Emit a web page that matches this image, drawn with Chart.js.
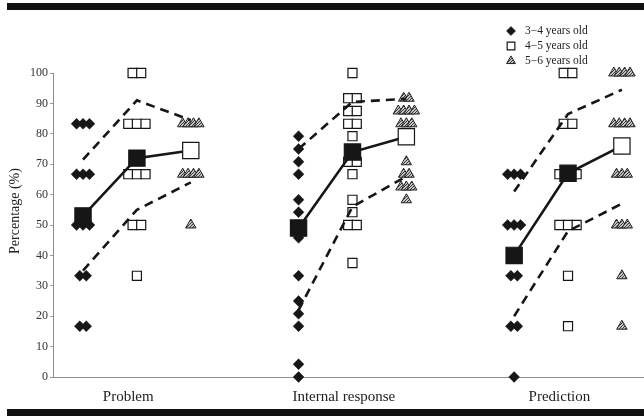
<!DOCTYPE html>
<html lang="en">
<head>
<meta charset="UTF-8" />
<title>Percentage by age group</title>
<script src="https://cdn.jsdelivr.net/npm/chart.js"></script>
<style>
  html, body { margin: 0; padding: 0; background: #fff; }
  #wrap { width: 644px; height: 418px; position: relative; }
</style>
</head>
<body>
<div id="wrap"><canvas id="chart"></canvas></div>
<script>
  // categories and groups
  const categories = ['Problem', 'Internal response', 'Prediction'];
  const ageGroups = ['3\u22124 years old', '4\u22125 years old', '5\u22126 years old'];
  const yTitle = 'Percentage (%)';

  // individual scores (%) per category and age group
  const problem34 = [83.3, 83.3, 83.3, 66.7, 66.7, 66.7, 50, 50, 50, 33.3, 33.3, 16.7, 16.7];
  const problem45 = [100, 100, 83.3, 83.3, 83.3, 66.7, 66.7, 66.7, 50, 50, 33.3];
  const problem56 = [83.3, 83.3, 83.3, 83.3, 66.7, 66.7, 66.7, 66.7, 50];
  const internal34 = [79.2, 75, 70.8, 66.7, 58.3, 54.2, 50, 45.8, 33.3, 25, 20.8, 16.7, 4.2, 0];
  const internal45 = [100, 91.7, 91.7, 87.5, 87.5, 83.3, 83.3, 79.2, 70.8, 70.8, 66.7, 58.3, 54.2, 50, 50, 37.5];
  const internal56 = [91.7, 91.7, 87.5, 87.5, 87.5, 87.5, 83.3, 83.3, 83.3, 79.2, 70.8, 66.7, 66.7, 62.5, 62.5, 62.5, 58.3];
  const prediction34 = [66.7, 66.7, 66.7, 50, 50, 50, 33.3, 33.3, 16.7, 16.7, 0];
  const prediction45 = [100, 100, 83.3, 83.3, 66.7, 66.7, 66.7, 50, 50, 50, 33.3, 16.7];
  const prediction56 = [100, 100, 100, 100, 83.3, 83.3, 83.3, 83.3, 66.7, 66.7, 66.7, 50, 50, 50, 33.3, 16.7];

  // group means and the dashed upper / lower bounds (3-4, 4-5, 5-6)
  const meanProblem = [53, 72, 74.5];
  const upperProblem = [71.5, 91, 84.5];
  const lowerProblem = [35, 55, 64];
  const meanInternal = [49, 74, 79];
  const upperInternal = [75, 90.5, 91.5];
  const lowerInternal = [22, 56, 66];
  const meanPrediction = [40, 67, 76];
  const upperPrediction = [61, 86.5, 94.5];
  const lowerPrediction = [20, 48, 57];

  const scores = [
    [problem34, problem45, problem56],
    [internal34, internal45, internal56],
    [prediction34, prediction45, prediction56]
  ];
  const means = [meanProblem, meanInternal, meanPrediction];
  const uppers = [upperProblem, upperInternal, upperPrediction];
  const lowers = [lowerProblem, lowerInternal, lowerPrediction];

  const GROUP_GAP = 4;          // x units between categories
  const spread = [0.12, 0.16, 0.1]; // side-by-side step for equal values
  const font = '"Liberation Serif", "Times New Roman", serif';
  const ink = '#161616';

  const canvas = document.getElementById('chart');
  const ctx0 = canvas.getContext('2d');

  // grey hatch used inside the triangles
  function hatch() {
    const c = document.createElement('canvas');
    c.width = 3; c.height = 3;
    const g = c.getContext('2d');
    g.fillStyle = '#c4c4c4';
    g.fillRect(0, 0, 3, 3);
    g.fillStyle = '#3a3a3a';
    g.fillRect(0, 2, 1, 1); g.fillRect(1, 1, 1, 1); g.fillRect(2, 0, 1, 1);
    return ctx0.createPattern(c, 'repeat');
  }
  const hatchFill = hatch();

  // points of one age group over all categories, equal values placed side by side
  function agePoints(a) {
    const pts = [];
    scores.forEach((cols, g) => {
      const vals = cols[a];
      const counts = {};
      vals.forEach(v => { counts[v] = (counts[v] || 0) + 1; });
      const seen = {};
      vals.forEach(v => {
        const n = counts[v];
        const i = seen[v] = (seen[v] === undefined ? 0 : seen[v] + 1);
        pts.push({ x: g * GROUP_GAP + a + (i - (n - 1) / 2) * spread[a], y: v });
      });
    });
    return pts;
  }

  const series = (arr, g) => arr.map((v, a) => ({ x: g * GROUP_GAP + a, y: v }));

  const styles = [
    { pointStyle: 'rectRot', radius: 5.4, bg: ink, border: ink, bw: 0.5 },
    { pointStyle: 'rect', radius: 6.4, bg: '#fff', border: ink, bw: 1.2 },
    { pointStyle: 'triangle', radius: 6, bg: hatchFill, border: '#222', bw: 1 }
  ];

  const datasets = [];
  means.forEach((m, g) => {
    datasets.push({
      label: 'mean ' + categories[g],
      data: series(m, g),
      showLine: true,
      borderColor: ink,
      borderWidth: 2.6,
      pointStyle: 'rect',
      pointRadius: 11.5,
      pointBackgroundColor: [ink, ink, '#fff'],
      pointBorderColor: ink,
      pointBorderWidth: 1.2,
      clip: false
    });
  });
  [uppers, lowers].forEach(set => set.forEach((b, g) => {
    datasets.push({
      label: 'bound ' + categories[g],
      data: series(b, g),
      showLine: true,
      borderColor: ink,
      borderWidth: 2.6,
      borderDash: [9, 6],
      pointRadius: 0,
      clip: false
    });
  }));
  ageGroups.forEach((name, a) => {
    const s = styles[a];
    datasets.push({
      label: name,
      data: agePoints(a),
      pointStyle: s.pointStyle,
      pointRadius: s.radius,
      backgroundColor: s.bg,
      borderColor: s.border,
      borderWidth: s.bw,
      clip: false
    });
  });

  // frame bars, legend and axis title
  const decor = {
    id: 'decor',
    beforeDraw(chart) {
      const c = chart.ctx;
      c.save();
      c.fillStyle = '#fff';
      c.fillRect(0, 0, chart.width, chart.height);
      c.fillStyle = '#111';
      c.fillRect(7, 3, chart.width - 7, 7);
      c.fillRect(7, 409, chart.width - 7, 7);
      c.restore();
    },
    afterDraw(chart) {
      const c = chart.ctx;
      c.save();
      c.font = '11.5px ' + font;
      c.textBaseline = 'middle';
      ageGroups.forEach((name, a) => {
        const s = styles[a];
        const y = 31 + a * 15;
        c.fillStyle = s.bg;
        c.strokeStyle = s.border;
        c.lineWidth = s.bw;
        Chart.helpers.drawPoint(c, { pointStyle: s.pointStyle, radius: s.radius * 0.85, borderWidth: s.bw, rotation: 0 }, 511, y);
        c.fillStyle = '#222';
        c.textAlign = 'left';
        c.fillText(name, 525, y);
      });
      c.translate(15, 211);
      c.rotate(-Math.PI / 2);
      c.textAlign = 'center';
      c.font = '14px ' + font;
      c.fillStyle = '#222';
      c.fillText(yTitle, 0, 0);
      c.restore();
    }
  };

  new Chart(ctx0, {
    type: 'scatter',
    data: { datasets },
    options: {
      responsive: true,
      maintainAspectRatio: false,
      animation: false,
      events: [],
      layout: { autoPadding: false, padding: { top: 73, right: 0, bottom: 0, left: 0 } },
      plugins: { legend: { display: false }, tooltip: { enabled: false } },
      scales: {
        x: {
          type: 'linear',
          min: -0.557,
          max: 10.41,
          afterBuildTicks: s => { s.ticks = categories.map((c, g) => ({ value: g * GROUP_GAP + 0.84 })); },
          afterFit: s => { s.height = 41; s.paddingLeft = 0; s.paddingRight = 0; },
          grid: { display: false, drawTicks: false },
          border: { display: true, color: '#8c8c8c', dash: [1, 1], width: 1 },
          ticks: {
            autoSkip: false, maxRotation: 0, padding: 11, color: '#222',
            font: { family: font, size: 15 },
            callback: (v, i) => categories[i]
          }
        },
        y: {
          min: 0,
          max: 100,
          afterFit: s => { s.width = 53; s.paddingTop = 0; s.paddingBottom = 0; },
          grid: { drawOnChartArea: false, drawTicks: true, tickLength: 3, color: '#999' },
          border: { display: true, color: '#8c8c8c', dash: [1, 1], width: 1 },
          ticks: { stepSize: 10, padding: 2, color: '#333', font: { family: font, size: 12 } }
        }
      }
    },
    plugins: [decor]
  });
</script>
</body>
</html>
